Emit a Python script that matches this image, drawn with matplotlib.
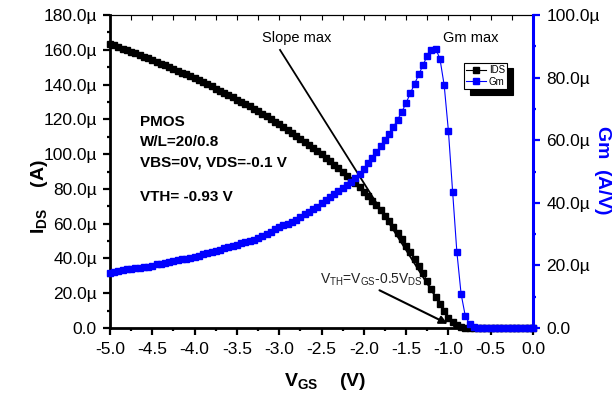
import numpy as np
import matplotlib
matplotlib.use("Agg")
import matplotlib.pyplot as plt
from matplotlib.ticker import MultipleLocator, FuncFormatter

plt.rcParams['font.family'] = ['Liberation Sans', 'DejaVu Sans']
plt.rcParams['mathtext.fontset'] = 'custom'
plt.rcParams['mathtext.rm'] = 'Liberation Sans'
plt.rcParams['mathtext.it'] = 'Liberation Sans'
plt.rcParams['mathtext.bf'] = 'Liberation Sans:bold'
plt.rcParams['axes.unicode_minus'] = False

# gate voltage sweep, -5 V to 0 V in 50 mV steps
vgs = np.linspace(-5.0, 0.0, 101)

# drain current (uA)
ids = [163.4, 162.5, 161.6, 160.7, 159.8, 158.9, 158.0, 157.0, 156.1, 155.1,
       154.1, 153.1, 152.1, 151.1, 150.1, 149.0, 148.0, 146.9, 145.8, 144.7,
       143.6, 142.5, 141.3, 140.1, 138.9, 137.7, 136.5, 135.3, 134.0, 132.7,
       131.4, 130.1, 128.8, 127.4, 126.0, 124.6, 123.2, 121.7, 120.2, 118.7,
       117.1, 115.5, 113.9, 112.2, 110.5, 108.8, 107.1, 105.3, 103.5, 101.7,
       99.8, 97.9, 95.9, 93.9, 91.8, 89.7, 87.5, 85.3, 83.1, 80.8,
       78.4, 75.9, 73.3, 70.5, 67.6, 64.5, 61.3, 58.0, 54.6, 51.1,
       47.4, 43.6, 39.7, 35.6, 31.4, 27.0, 22.6, 18.1, 13.7, 9.5,
       5.9, 3.2, 1.5, 0.6, 0.2, 0.07, 0.03, 0.02, 0.01, 0.01,
       0.01, 0.0, 0.0, 0.0, 0.0, 0.0, 0.0, 0.0, 0.0, 0.0, 0.0]

# transconductance (uA/V)
gm = [17.5, 17.8, 18.1, 18.5, 18.8, 19.0, 19.1, 19.2, 19.4, 19.6,
      19.9, 20.3, 20.6, 20.9, 21.1, 21.3, 21.6, 21.9, 22.2, 22.4,
      22.6, 22.9, 23.5, 24.1, 24.4, 24.5, 24.9, 25.4, 25.8, 26.2,
      26.6, 27.0, 27.5, 27.9, 28.2, 28.7, 29.4, 30.1, 30.8, 31.5,
      32.2, 32.8, 33.3, 33.9, 34.5, 35.6, 36.3, 37.0, 37.9, 38.8,
      39.8, 40.8, 41.8, 42.8, 43.8, 44.8, 45.8, 46.8, 47.8, 49.3,
      50.9, 52.6, 54.3, 56.1, 58.0, 60.0, 62.1, 64.2, 66.6, 69.1,
      71.9, 75.0, 78.0, 81.0, 84.0, 87.0, 88.9, 89.2, 86.0, 77.6,
      63.0, 43.5, 24.3, 10.9, 3.8, 1.3, 0.45, 0.15, 0.08, 0.05,
      0.03, 0.02, 0.02, 0.01, 0.01, 0.01, 0.0, 0.0, 0.0, 0.0, 0.0]

blue = '#0000ff'

fig = plt.figure(figsize=(6.13, 4.0), dpi=100)
ax = fig.add_axes([110/613, 1-328/400, 423/613, 313/400])
ax2 = ax.twinx()

l1, = ax.plot(vgs, ids, color='black', marker='s', markersize=4.7, lw=0.8,
              label='IDS', clip_on=False)
l2, = ax2.plot(vgs, gm, color=blue, marker='s', markersize=4.7, lw=0.8,
               label='Gm', clip_on=False, zorder=3)

ax.set_xlim(-5.0, 0.0)
ax.set_ylim(0, 180)
ax2.set_ylim(0, 100)

def umicro(v, pos):
    return '0.0' if abs(v) < 1e-9 else '%.1fµ' % v

ax.xaxis.set_major_locator(MultipleLocator(0.5))
ax.xaxis.set_minor_locator(MultipleLocator(0.25))
ax.xaxis.set_major_formatter(FuncFormatter(lambda v, p: '%.1f' % (0.0 if abs(v) < 1e-9 else v)))
ax.yaxis.set_major_locator(MultipleLocator(20))
ax.yaxis.set_minor_locator(MultipleLocator(10))
ax.yaxis.set_major_formatter(FuncFormatter(umicro))
ax2.yaxis.set_major_locator(MultipleLocator(20))
ax2.yaxis.set_minor_locator(MultipleLocator(10))
ax2.yaxis.set_major_formatter(FuncFormatter(umicro))

ax.tick_params(axis='both', which='major', direction='out', length=5, width=1.6,
               labelsize=12.5, pad=4.5, top=False, right=False)
ax.tick_params(axis='both', which='minor', direction='out', length=2.5, width=1.6,
               top=False, right=False)
ax.tick_params(axis='x', which='major', pad=5)
ax2.tick_params(axis='y', which='major', direction='out', length=5, width=1.6,
                labelsize=12.5, pad=4.5, color=blue, labelcolor='black')
ax2.tick_params(axis='y', which='minor', direction='out', length=2.5, width=1.6,
                color=blue)

for s in ['left', 'bottom']:
    ax.spines[s].set_linewidth(2.0)
ax.spines['top'].set_linewidth(0.8)
ax.spines['right'].set_visible(False)
for s in ['left', 'bottom', 'top']:
    ax2.spines[s].set_visible(False)
ax2.spines['right'].set_color(blue)
ax2.spines['right'].set_linewidth(2.2)

# inward ticks on the top edge
sec = ax.secondary_xaxis('top')
sec.set_xticks(np.arange(-5.0, 0.01, 0.25))
sec.tick_params(direction='in', length=3.5, width=0.8, labeltop=False)
sec.spines['top'].set_linewidth(0.8)

# axis titles
fig.text(325/613, 1-381/400, r'$\mathbf{V_{GS}}$    $\mathbf{(V)}$', fontsize=14,
         ha='center', va='center')
fig.text(40/613, 1-197/400, r'$\mathbf{I_{DS}}$    $\mathbf{(A)}$', fontsize=14,
         ha='center', va='center', rotation=90)
fig.text(602/613, 1-170/400, r'$\mathbf{Gm}$  $\mathbf{(A/V)}$', fontsize=14,
         ha='center', va='center', rotation=-90, color=blue)

# device info
info = ['PMOS', 'W/L=20/0.8', 'VBS=0V, VDS=-0.1 V']
for i, t in enumerate(info):
    ax.text(-4.645, 118.5 - i * 11.8, t, fontsize=11, fontweight='bold', va='center')
ax.text(-4.645, 75.3, 'VTH= -0.93 V', fontsize=11, fontweight='bold', va='center')

# slope / threshold construction
ax.plot([-2.99, -0.92], [159.9, 0.0], color='black', lw=1.3, zorder=1.5)
ax.text(-3.20, 166.8, 'Slope max', fontsize=10.5, va='center')
ax.text(-1.06, 166.8, 'Gm max', fontsize=10.5, va='center')
ax.annotate('', xy=(-0.98, 1.7), xytext=(-1.844, 22.4),
            arrowprops=dict(arrowstyle='-|>', color='black', lw=1.5,
                            mutation_scale=12))
ax.text(-2.52, 27.6, r'V$_{\mathrm{TH}}$=V$_{\mathrm{GS}}$-0.5V$_{\mathrm{DS}}$',
        fontsize=10, va='center', color='#222222')

leg = ax2.legend([l1, l2], ['IDS', 'Gm'], loc='upper left',
                 bbox_to_anchor=(0.837, 0.847), fontsize=7, frameon=True,
                 fancybox=False, edgecolor='black', borderpad=0.25,
                 handlelength=2.0, handletextpad=0.3, labelspacing=0.15,
                 borderaxespad=0, markerscale=0.8,
                 shadow={'color': 'black', 'alpha': 1, 'ox': 4, 'oy': -4})
leg.get_frame().set_linewidth(0.8)

fig.savefig('out.png', dpi=100)
